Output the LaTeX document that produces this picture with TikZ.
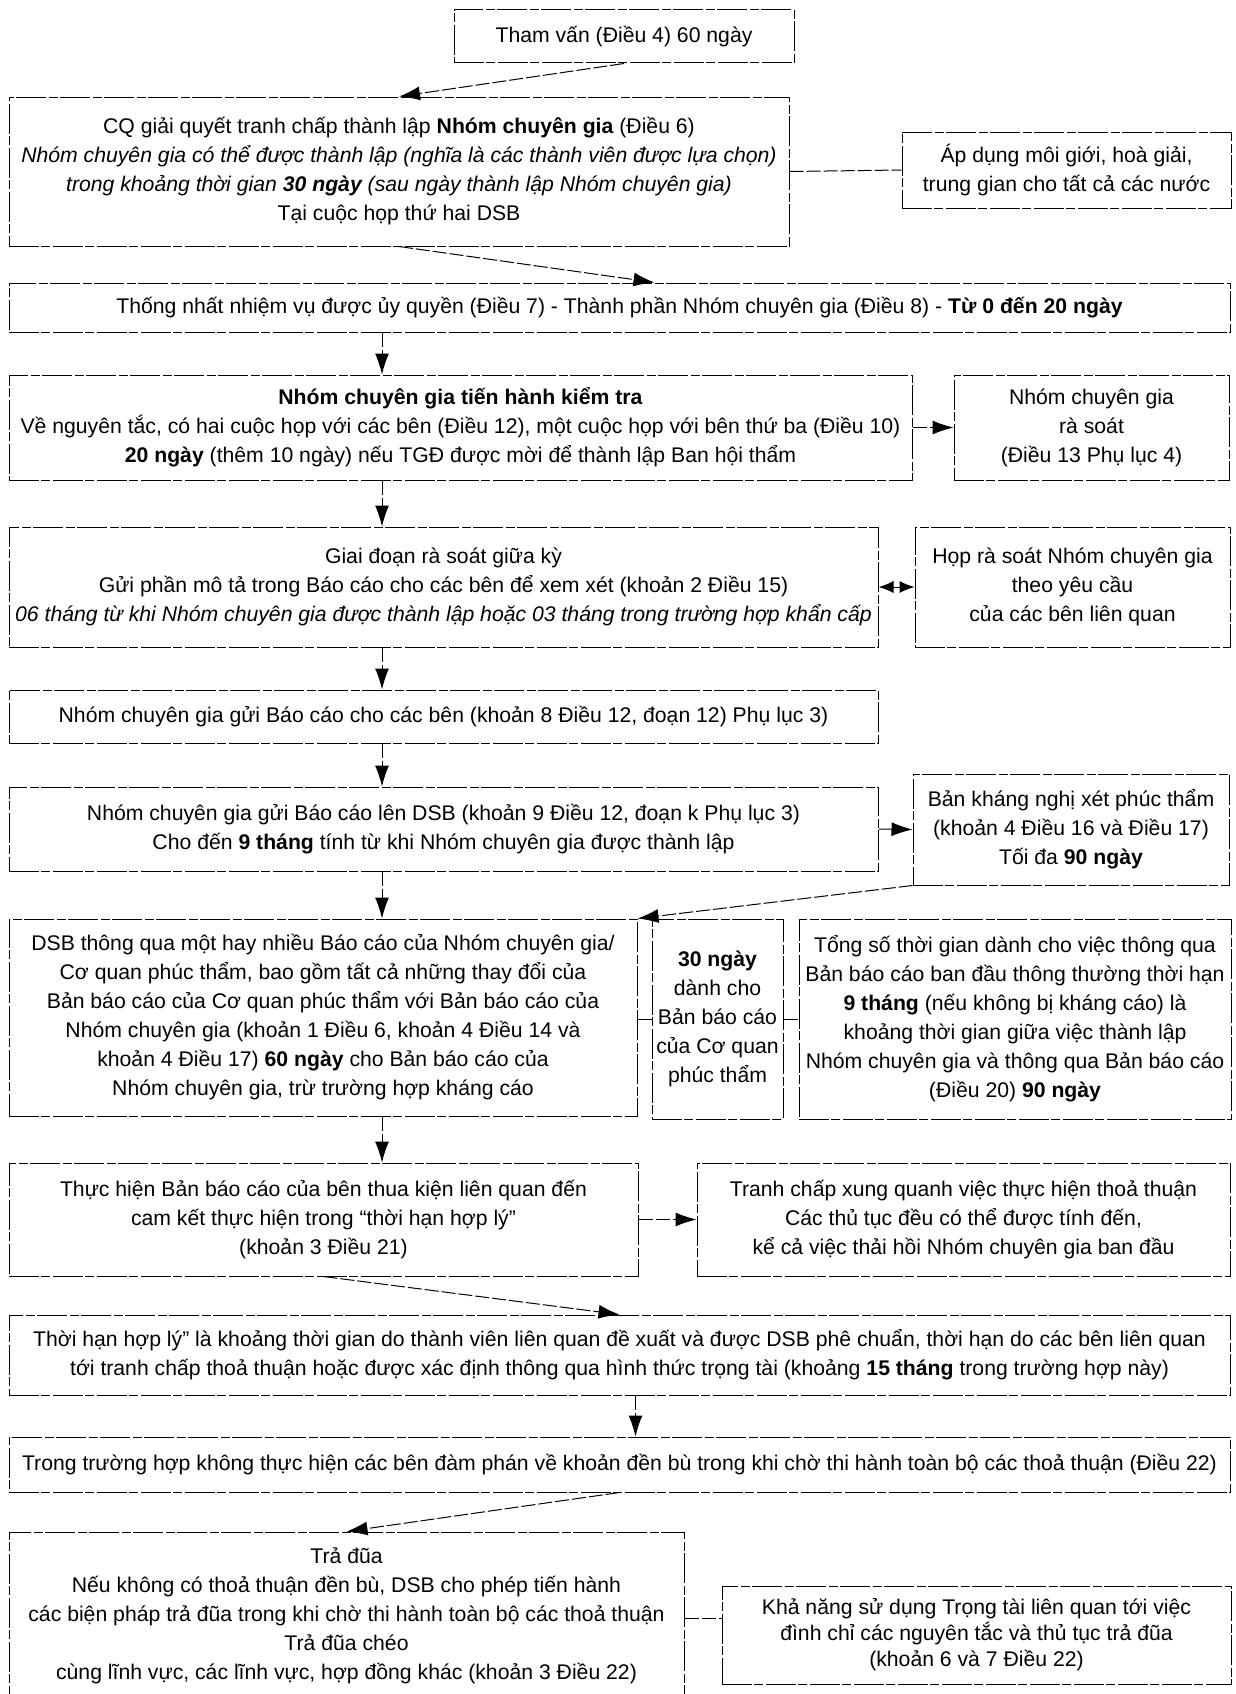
\documentclass[tikz,border=0pt]{standalone}
\usepackage{fontspec}
\setmainfont{Liberation Sans}
\usetikzlibrary{arrows.meta}

\begin{document}
\begin{tikzpicture}[x=1pt,y=-1pt,>={Latex[length=21pt,width=14pt]},
  box/.style={draw,line width=1pt,dash pattern=on 30pt off 2pt on 9pt off 3pt,
    align=center,inner sep=0pt,font=\fontsize{21.2}{29}\selectfont},
  link/.style={line width=1pt,dash pattern=on 14pt off 3pt}]
  \useasboundingbox (0,0) rectangle (1235,1694);
  \coordinate (spine) at (382,0);

  \node[box,minimum width=340pt,minimum height=53pt] (tv) at (624,36.5) {Tham vấn (Điều 4) 60 ngày};
  \node[box,minimum width=780pt,minimum height=149pt] (co) at (399,171.5)
    {CQ giải quyết tranh chấp thành lập \textbf{Nhóm chuyên gia} (Điều 6)\\
     {\itshape Nhóm chuyên gia có thể được thành lập (nghĩa là các thành viên được lựa chọn)}\\
     {\itshape trong khoảng thời gian \textbf{30 ngày} (sau ngày thành lập Nhóm chuyên gia)}\\
     Tại cuộc họp thứ hai DSB};
  \node[box,minimum width=329pt,minimum height=76pt] (ad) at (1066.5,170)
    {Áp dụng môi giới, hoà giải,\\ trung gian cho tất cả các nước};
  \node[box,minimum width=1221pt,minimum height=49pt] (tn) at (619.5,307.5)
    {Thống nhất nhiệm vụ được ủy quyền (Điều 7) - Thành phần Nhóm chuyên gia (Điều 8) - \textbf{Từ 0 đến 20 ngày}};
  \node[box,minimum width=903pt,minimum height=105pt] (kt) at (460.5,427.5)
    {\textbf{Nhóm chuyên gia tiến hành  kiểm tra}\\
     Về nguyên tắc, có hai cuộc họp với các bên (Điều 12), một cuộc họp với bên thứ ba (Điều 10)\\
     \textbf{20 ngày} (thêm 10 ngày) nếu TGĐ được mời để thành lập Ban hội thẩm};
  \node[box,minimum width=275pt,minimum height=105pt] (rs) at (1091.5,427.5)
    {Nhóm chuyên gia\\ rà soát\\ (Điều 13 Phụ lục 4)};
  \node[box,minimum width=869pt,minimum height=120pt] (gd) at (443.5,587)
    {Giai đoạn rà soát giữa kỳ\\
     Gửi phần mô tả trong Báo cáo cho các bên để xem xét (khoản 2 Điều 15)\\
     {\itshape 06 tháng từ khi Nhóm chuyên gia được thành lập hoặc 03 tháng trong trường hợp khẩn cấp}};
  \node[box,minimum width=315pt,minimum height=120pt] (hr) at (1072.5,587)
    {Họp rà soát Nhóm chuyên gia\\ theo yêu cầu\\ của các bên liên quan};
  \node[box,minimum width=869pt,minimum height=53pt] (gb) at (443.5,716.5)
    {Nhóm chuyên gia gửi Báo cáo cho các bên (khoản 8 Điều 12, đoạn 12) Phụ lục 3)};
  \node[box,minimum width=869pt,minimum height=84pt] (gl) at (443.5,829)
    {Nhóm chuyên gia gửi Báo cáo lên DSB (khoản 9 Điều 12, đoạn k Phụ lục 3)\\
     Cho đến \textbf{9 tháng} tính từ khi Nhóm chuyên gia được thành lập};
  \node[box,minimum width=316pt,minimum height=111pt] (kn) at (1071,829.5)
    {Bản kháng nghị xét phúc thẩm\\ (khoản 4 Điều 16 và Điều 17)\\ Tối đa \textbf{90 ngày}};
  \node[box,minimum width=628pt,minimum height=197pt] (dsb) at (323,1017.5)
    {DSB thông qua một hay nhiều Báo cáo của Nhóm chuyên gia/\\
     Cơ quan phúc thẩm, bao gồm tất cả những thay đổi của\\
     Bản báo cáo của Cơ quan phúc thẩm với Bản báo cáo của\\
     Nhóm chuyên gia (khoản 1 Điều 6, khoản 4 Điều 14 và\\
     khoản 4 Điều 17) \textbf{60 ngày} cho Bản báo cáo của\\
     Nhóm chuyên gia, trừ trường hợp kháng cáo};
  \node[box,minimum width=131pt,minimum height=200pt] (bn) at (717.5,1019)
    {\textbf{30 ngày}\\ dành cho\\ Bản báo cáo\\ của Cơ quan\\ phúc thẩm};
  \node[box,minimum width=432pt,minimum height=200pt] (ts) at (1015,1019)
    {Tổng số thời gian dành cho việc thông qua\\
     Bản báo cáo ban đầu thông thường thời hạn\\
     \textbf{9 tháng} (nếu không bị kháng cáo) là\\
     khoảng thời gian giữa việc thành lập\\
     Nhóm chuyên gia và thông qua Bản báo cáo\\
     (Điều 20) \textbf{90 ngày}};
  \node[box,minimum width=629pt,minimum height=113pt] (th) at (323.5,1219.5)
    {Thực hiện Bản báo cáo của bên thua kiện liên quan đến\\
     cam kết thực hiện trong “thời hạn hợp lý”\\ (khoản 3 Điều 21)};
  \node[box,minimum width=533pt,minimum height=113pt] (tc) at (963.5,1219.5)
    {Tranh chấp xung quanh việc thực hiện thoả thuận\\
     Các thủ tục đều có thể được tính đến,\\
     kể cả việc thải hồi Nhóm chuyên gia ban đầu};
  \node[box,minimum width=1221pt,minimum height=80pt] (hl) at (619.5,1355)
    {Thời hạn hợp lý” là khoảng thời gian do thành viên liên quan đề xuất và được DSB phê chuẩn, thời hạn do các bên liên quan\\
     tới tranh chấp thoả thuận hoặc được xác định thông qua hình thức trọng tài (khoảng \textbf{15 tháng} trong trường hợp này)};
  \node[box,minimum width=1221pt,minimum height=55pt] (dp) at (619.5,1464.5)
    {Trong trường hợp không thực hiện các bên đàm phán về khoản đền bù trong khi chờ thi hành toàn bộ các thoả thuận (Điều 22)};
  \node[box,minimum width=675pt,minimum height=168pt] (td) at (346.5,1616)
    {Trả đũa\\
     Nếu không có thoả thuận đền bù, DSB cho phép tiến hành\\
     các biện pháp trả đũa trong khi chờ thi hành toàn bộ các thoả thuận\\
     Trả đũa chéo\\
     cùng lĩnh vực, các lĩnh vực, hợp đồng khác (khoản 3 Điều 22)};
  \node[box,minimum width=509pt,minimum height=98pt,font=\fontsize{21.2}{26}\selectfont] (tt) at (976.5,1635)
    {Khả năng sử dụng Trọng tài liên quan tới việc\\
     đình chỉ các nguyên tắc và thủ tục trả đũa\\
     (khoản 6 và 7 Điều 22)};

  % connectors
  \draw[link,->] (tv.south) -- (co.north);
  \draw[link] (co.east) -- (ad.west);
  \draw[link,->] (co.south) -- ([xshift=35pt]tn.north);
  \draw[link,->] (tn.south -| spine) -- (kt.north -| spine);
  \draw[link,->] (kt.east) -- (rs.west);
  \draw[link,->] (kt.south -| spine) -- (gd.north -| spine);
  \draw[link,{Latex[length=15pt,width=12pt]}-{Latex[length=15pt,width=12pt]}] (gd.east) -- (hr.west);
  \draw[link,->] (gd.south -| spine) -- (gb.north -| spine);
  \draw[link,->] (gb.south -| spine) -- (gl.north -| spine);
  \draw[link,->] (gl.east) -- (kn.west);
  \draw[link,->] (kn.south west) -- (dsb.north east);
  \draw[link,->] (gl.south -| spine) -- (dsb.north -| spine);
  \draw[link] (bn.west -| dsb.east) -- (bn.west);
  \draw[link] (bn.east) -- (ts.west);
  \draw[link,->] (dsb.south -| spine) -- (th.north -| spine);
  \draw[link,->] (th.east) -- (tc.west);
  \draw[link,->] (th.south) -- (hl.north);
  \draw[link,->] ([xshift=16pt]hl.south) -- ([xshift=16pt]dp.north);
  \draw[link,->] (dp.south) -- (td.north);
  \draw[link] ([yshift=17pt]tt.west -| td.east) -- ([yshift=17pt]tt.west);
\end{tikzpicture}
\end{document}
